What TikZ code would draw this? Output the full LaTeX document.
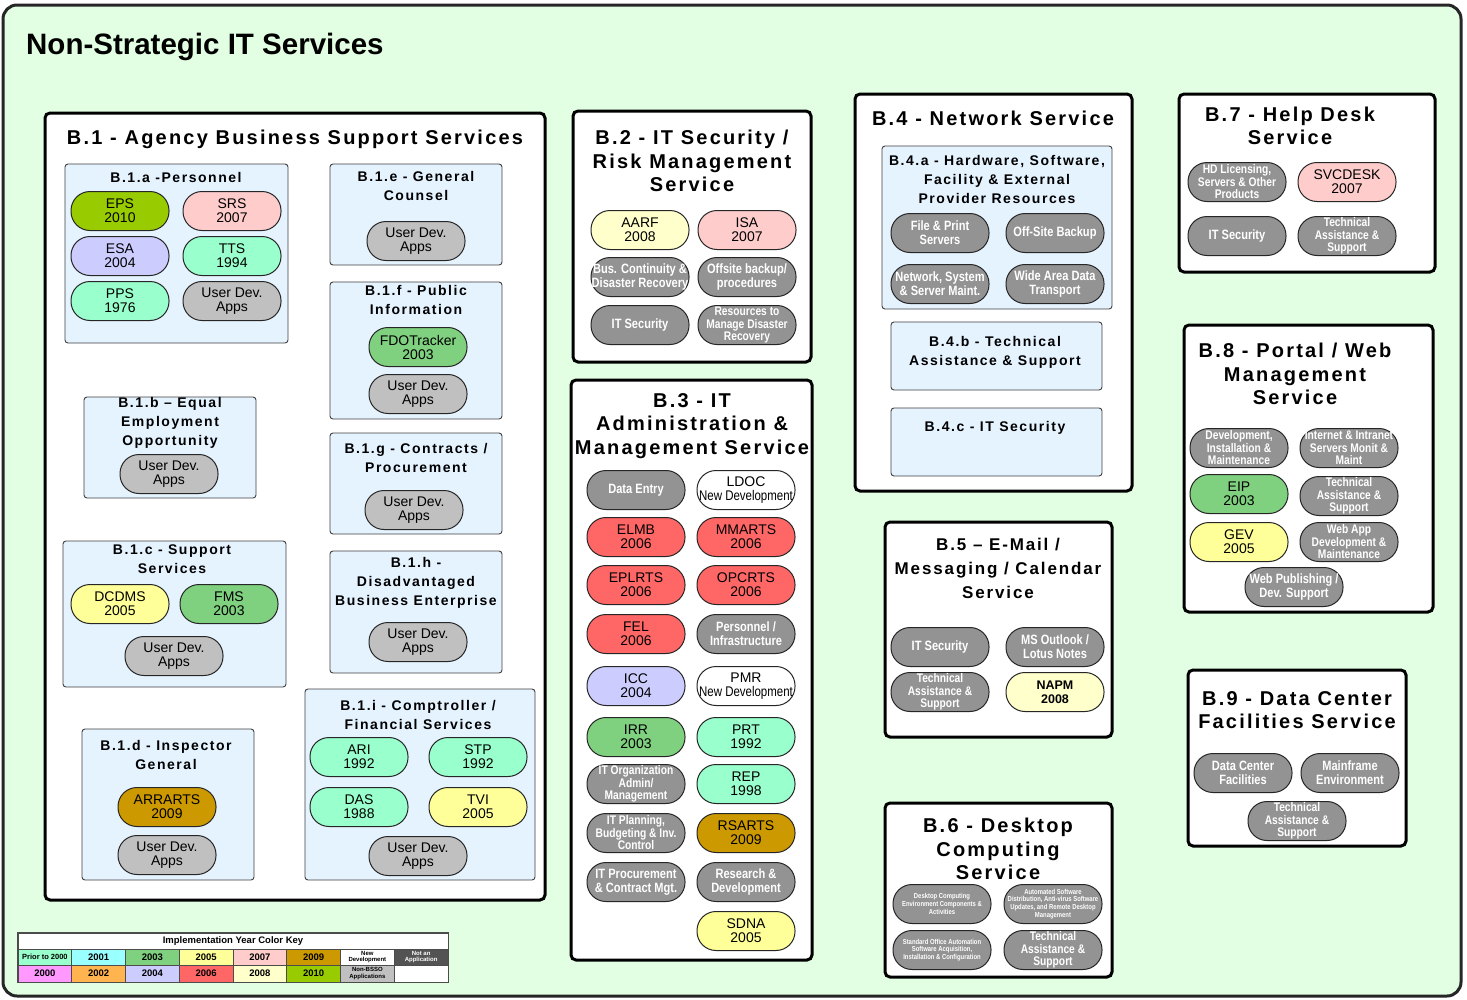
\documentclass[tikz,border=0pt]{standalone}
\usepackage{fontspec}
\setmainfont{Liberation Sans}
\newfontfamily\hdrfont[LetterSpace=11]{Liberation Sans}
\newfontfamily\narrowfont[FakeStretch=0.82]{Liberation Sans}
\usetikzlibrary{fit}

\definecolor{bgGreen}{HTML}{E3FFE3}
\definecolor{subBlue}{HTML}{E5F3FF}
\definecolor{cPre}{HTML}{99FFCC}
\definecolor{c2000}{HTML}{FF99FF}
\definecolor{c2001}{HTML}{99FFFF}
\definecolor{c2002}{HTML}{FFB450}
\definecolor{c2003}{HTML}{7FD07F}
\definecolor{c2004}{HTML}{CCCCFF}
\definecolor{c2005}{HTML}{FFFF99}
\definecolor{c2006}{HTML}{FF6666}
\definecolor{c2007}{HTML}{FFCCCC}
\definecolor{c2008}{HTML}{FFFFCC}
\definecolor{c2009}{HTML}{CC9900}
\definecolor{c2010}{HTML}{99CC00}
\definecolor{cNA}{HTML}{939393}
\definecolor{cUD}{HTML}{C0C0C0}

\tikzset{
  frame/.style={draw=black!85, line width=3pt, rounded corners=14pt, fill=bgGreen},
  mainbox/.style={draw=black, line width=3pt, rounded corners=5pt, fill=white, inner sep=0pt, outer sep=0pt},
  subbox/.style={draw=black!75, line width=0.9pt, rounded corners=3pt, fill=subBlue, inner sep=0pt, outer sep=0pt},
  mainhdr/.style={align=center, inner sep=0pt, font=\hdrfont\bfseries\fontsize{20}{23.5}\selectfont},
  subhdr/.style={align=center, inner sep=0pt, font=\hdrfont\bfseries\fontsize{14}{19}\selectfont},
  pill/.style={draw=black!85, line width=1pt, rounded corners=19pt, minimum width=98pt,
    minimum height=39pt, inner sep=0pt, align=center, font=\fontsize{14}{14}\selectfont},
  app/.style={pill, fill=#1},
  udev/.style={pill, fill=cUD},
  newdev/.style={pill, fill=white},
  svc/.style={pill, fill=cNA, text=white, font=\narrowfont\bfseries\fontsize{13.5}{14}\selectfont},
  svcs/.style={svc, font=\narrowfont\bfseries\fontsize{12.5}{12.5}\selectfont},
  svct/.style={svc, font=\narrowfont\bfseries\fontsize{7.2}{7.8}\selectfont},
  keycell/.style={draw=black!70, line width=0.8pt, minimum width=53.75pt, minimum height=16.5pt,
    inner sep=0pt, align=center, font=\bfseries\fontsize{9.5}{9.5}\selectfont},
}

\begin{document}
\begin{tikzpicture}[x=1pt, y=-1pt]
\useasboundingbox (0,0) rectangle (1467,999);

% outer frame and title
\draw[frame] (3,5) rectangle (1461,996);
\node[anchor=west, inner sep=0pt, font=\bfseries\fontsize{29.5}{30}\selectfont] (title) at (26,47) {Non-Strategic IT Services};

% ---------- main service boxes ----------
\node[mainbox, fit={(45,113) (545,900)}] (B1) {};
\node[mainbox, fit={(573,111) (811,362)}] (B2) {};
\node[mainbox, fit={(571,380) (812,960)}] (B3) {};
\node[mainbox, fit={(855,94) (1132,491)}] (B4) {};
\node[mainbox, fit={(885,522) (1112,737)}] (B5) {};
\node[mainbox, fit={(885,803) (1112,977)}] (B6) {};
\node[mainbox, fit={(1179,94) (1435,272)}] (B7) {};
\node[mainbox, fit={(1184,325) (1433,612)}] (B8) {};
\node[mainbox, fit={(1188,670) (1406,846)}] (B9) {};

\node[mainhdr] (B1t) at (295,139) {B.1 - Agency Business Support Services};
\node[mainhdr] (B2t) at (692,161) {B.2 - IT Security /\\Risk Management\\Service};
\node[mainhdr] (B3t) at (692,426) {B.3 - IT\\Administration \&\\Management Service};
\node[mainhdr] (B4t) at (993,118) {B.4 - Network Service};
\node[mainhdr, font=\hdrfont\bfseries\fontsize{17}{24}\selectfont] (B5t) at (998,568) {B.5 – E-Mail /\\Messaging / Calendar\\Service};
\node[mainhdr] (B6t) at (998,849) {B.6 - Desktop\\Computing\\Service};
\node[mainhdr] (B7t) at (1290,126) {B.7 - Help Desk\\Service};
\node[mainhdr] (B8t) at (1295,374) {B.8 - Portal / Web\\Management\\Service};
\node[mainhdr] (B9t) at (1297,710) {B.9 - Data Center\\Facilities Service};

% ---------- B.1 sub-boxes ----------
\node[subbox, fit={(65,164) (288,343)}] (B1a) {};
\node[subbox, fit={(330,164) (502,265)}] (B1e) {};
\node[subbox, fit={(330,282) (502,419)}] (B1f) {};
\node[subbox, fit={(84,397) (256,498)}] (B1b) {};
\node[subbox, fit={(330,433) (502,534)}] (B1g) {};
\node[subbox, fit={(63,541) (286,687)}] (B1c) {};
\node[subbox, fit={(330,551) (502,673)}] (B1h) {};
\node[subbox, fit={(82,729) (254,880)}] (B1d) {};
\node[subbox, fit={(305,689) (535,880)}] (B1i) {};

\node[subhdr] (B1at) at (176,177) {B.1.a -Personnel};
\node[subhdr] (B1et) at (416,185.5) {B.1.e - General\\Counsel};
\node[subhdr] (B1ft) at (416,300) {B.1.f - Public\\Information};
\node[subhdr] (B1bt) at (170,423) {B.1.b – Equal\\Employment\\Opportunity};
\node[subhdr] (B1gt) at (416,457.5) {B.1.g - Contracts /\\Procurement};
\node[subhdr] (B1ct) at (172,559.5) {B.1.c - Support\\Services};
\node[subhdr] (B1ht) at (416,583) {B.1.h -\\Disadvantaged\\Business Enterprise};
\node[subhdr] (B1dt) at (166,754.5) {B.1.d - Inspector\\General};
\node[subhdr] (B1it) at (418,714.5) {B.1.i - Comptroller /\\Financial Services};

% B.1.a
\node[app=c2010] (eps) at (120,211) {EPS\\2010};
\node[app=c2007] (srs) at (232,211) {SRS\\2007};
\node[app=c2004] (esa) at (120,256) {ESA\\2004};
\node[app=cPre] (tts) at (232,256) {TTS\\1994};
\node[app=cPre] (pps) at (120,301) {PPS\\1976};
\node[udev] (ud1a) at (232,301) {User Dev.\\Apps};
% B.1.e
\node[udev] (ud1e) at (416,241) {User Dev.\\Apps};
% B.1.f
\node[app=c2003] (fdo) at (418,347) {FDOTracker\\2003};
\node[udev] (ud1f) at (418,394) {User Dev.\\Apps};
% B.1.b
\node[udev] (ud1b) at (169,474) {User Dev.\\Apps};
% B.1.g
\node[udev] (ud1g) at (414,510) {User Dev.\\Apps};
% B.1.c
\node[app=c2005] (dcdms) at (120,604) {DCDMS\\2005};
\node[app=c2003] (fms) at (229,604) {FMS\\2003};
\node[udev] (ud1c) at (174,656) {User Dev.\\Apps};
% B.1.h
\node[udev] (ud1h) at (418,642) {User Dev.\\Apps};
% B.1.d
\node[app=c2009] (arrarts) at (167,807) {ARRARTS\\2009};
\node[udev] (ud1d) at (167,855) {User Dev.\\Apps};
% B.1.i
\node[app=cPre] (ari) at (359,757) {ARI\\1992};
\node[app=cPre] (stp) at (478,757) {STP\\1992};
\node[app=cPre] (das) at (359,807) {DAS\\1988};
\node[app=c2005] (tvi) at (478,807) {TVI\\2005};
\node[udev] (ud1i) at (418,856) {User Dev.\\Apps};

% ---------- B.2 ----------
\node[app=c2008] (aarf) at (640,230) {AARF\\2008};
\node[app=c2007] (isa) at (747,230) {ISA\\2007};
\node[svc] (buscont) at (640,277) {Bus. Continuity \&\\Disaster Recovery};
\node[svc] (offsite) at (747,277) {Offsite backup/\\procedures};
\node[svc] (itsec2) at (640,325) {IT Security};
\node[svcs] (resdr) at (747,325) {Resources to\\Manage Disaster\\Recovery};

% ---------- B.3 ----------
\node[svc] (dataentry) at (636,490) {Data Entry};
\node[newdev] (ldoc) at (746,490) {LDOC\\{\narrowfont New Development}};
\node[app=c2006] (elmb) at (636,537) {ELMB\\2006};
\node[app=c2006] (mmarts) at (746,537) {MMARTS\\2006};
\node[app=c2006] (eplrts) at (636,585) {EPLRTS\\2006};
\node[app=c2006] (opcrts) at (746,585) {OPCRTS\\2006};
\node[app=c2006] (fel) at (636,634) {FEL\\2006};
\node[svc] (persinf) at (746,634) {Personnel /\\Infrastructure};
\node[app=c2004] (icc) at (636,686) {ICC\\2004};
\node[newdev] (pmr) at (746,686) {PMR\\{\narrowfont New Development}};
\node[app=c2003] (irr) at (636,737) {IRR\\2003};
\node[app=cPre] (prt) at (746,737) {PRT\\1992};
\node[svcs] (itorg) at (636,784) {IT Organization\\Admin/\\Management};
\node[app=cPre] (rep) at (746,784) {REP\\1998};
\node[svcs] (itplan) at (636,833) {IT Planning,\\Budgeting \& Inv.\\Control};
\node[app=c2009] (rsarts) at (746,833) {RSARTS\\2009};
\node[svc] (itproc) at (636,882) {IT Procurement\\\& Contract Mgt.};
\node[svc] (resdev) at (746,882) {Research \&\\Development};
\node[app=c2005] (sdna) at (746,931) {SDNA\\2005};

% ---------- B.4 ----------
\node[subbox, fit={(882,146) (1112,309)}] (B4a) {};
\node[subbox, fit={(891,322) (1102,390)}] (B4b) {};
\node[subbox, fit={(891,408) (1102,476)}] (B4c) {};
\node[subhdr] (B4at) at (997,179) {B.4.a - Hardware, Software,\\Facility \& External\\Provider Resources};
\node[subhdr] (B4bt) at (995,352.5) {B.4.b - Technical\\Assistance \& Support};
\node[subhdr] (B4ct) at (995,428) {B.4.c - IT Security};
\node[svc] (fileprint) at (940,233) {File \& Print\\Servers};
\node[svc] (offsiteb) at (1055,233) {Off-Site Backup};
\node[svc] (netsys) at (940,284) {Network, System\\\& Server Maint.};
\node[svc] (wan) at (1055,284) {Wide Area Data\\Transport};

% ---------- B.5 ----------
\node[svc] (itsec5) at (940,647) {IT Security};
\node[svc] (outlook) at (1055,647) {MS Outlook /\\Lotus Notes};
\node[svcs] (tech5) at (940,692) {Technical\\Assistance \&\\Support};
\node[app=c2008, font=\bfseries\fontsize{12.5}{14}\selectfont] (napm) at (1055,692) {NAPM\\2008};

% ---------- B.6 ----------
\node[svct] (desktopenv) at (942,904) {Desktop Computing\\Environment Components \&\\Activities};
\node[svct] (autosw) at (1053,904) {Automated Software\\Distribution, Anti-virus Software\\Updates, and Remote Desktop\\Management};
\node[svct] (stdoffice) at (942,950) {Standard Office Automation\\Software Acquisition,\\Installation \& Configuration};
\node[svcs] (tech6) at (1053,950) {Technical\\Assistance \&\\Support};

% ---------- B.7 ----------
\node[svcs] (hdlic) at (1237,182) {HD Licensing,\\Servers \& Other\\Products};
\node[app=c2007] (svcdesk) at (1347,182) {SVCDESK\\2007};
\node[svc] (itsec7) at (1237,236) {IT Security};
\node[svcs] (tech7) at (1347,236) {Technical\\Assistance \&\\Support};

% ---------- B.8 ----------
\node[svcs] (devinst) at (1239,448) {Development,\\Installation \&\\Maintenance};
\node[svcs] (intranet) at (1349,448) {Internet \& Intranet\\Servers Monit \&\\Maint};
\node[app=c2003] (eip) at (1239,494) {EIP\\2003};
\node[svcs] (tech8) at (1349,496) {Technical\\Assistance \&\\Support};
\node[app=c2005] (gev) at (1239,542) {GEV\\2005};
\node[svcs] (webapp) at (1349,542) {Web App\\Development \&\\Maintenance};
\node[svc] (webpub) at (1294,587) {Web Publishing /\\Dev. Support};

% ---------- B.9 ----------
\node[svc] (dcfac) at (1243,773) {Data Center\\Facilities};
\node[svc] (mainframe) at (1350,773) {Mainframe\\Environment};
\node[svcs] (tech9) at (1297,821) {Technical\\Assistance \&\\Support};

% ---------- colour key ----------
\node[keycell, fill=white, minimum width=430pt, minimum height=16pt] (keyhdr) at (233,941) {Implementation Year Color Key};
\node[keycell, fill=cPre, font=\bfseries\fontsize{7.5}{8}\selectfont] (kpre) at (44.9,957.2) {Prior to 2000};
\node[keycell, fill=c2001] (k2001) at (98.6,957.2) {2001};
\node[keycell, fill=c2003] (k2003) at (152.4,957.2) {2003};
\node[keycell, fill=c2005] (k2005) at (206.1,957.2) {2005};
\node[keycell, fill=c2007] (k2007) at (259.9,957.2) {2007};
\node[keycell, fill=c2009] (k2009) at (313.6,957.2) {2009};
\node[keycell, fill=white, font=\bfseries\fontsize{6}{6.5}\selectfont] (knew) at (367.4,957.2) {New\\Development};
\node[keycell, fill=gray!50!black!90, text=white, font=\bfseries\fontsize{6}{6.5}\selectfont] (kna) at (421.1,957.2) {Not an\\Application};
\node[keycell, fill=c2000] (k2000) at (44.9,973.7) {2000};
\node[keycell, fill=c2002] (k2002) at (98.6,973.7) {2002};
\node[keycell, fill=c2004] (k2004) at (152.4,973.7) {2004};
\node[keycell, fill=c2006] (k2006) at (206.1,973.7) {2006};
\node[keycell, fill=c2008] (k2008) at (259.9,973.7) {2008};
\node[keycell, fill=c2010] (k2010) at (313.6,973.7) {2010};
\node[keycell, fill=cUD, font=\bfseries\fontsize{6}{6.5}\selectfont] (knon) at (367.4,973.7) {Non-BSSO\\Applications};
\node[keycell, fill=white] (kblank) at (421.1,973.7) {};
\draw[draw=black!70, line width=1.4pt] (keyhdr.north west) rectangle (kblank.south east);
\end{tikzpicture}
\end{document}
